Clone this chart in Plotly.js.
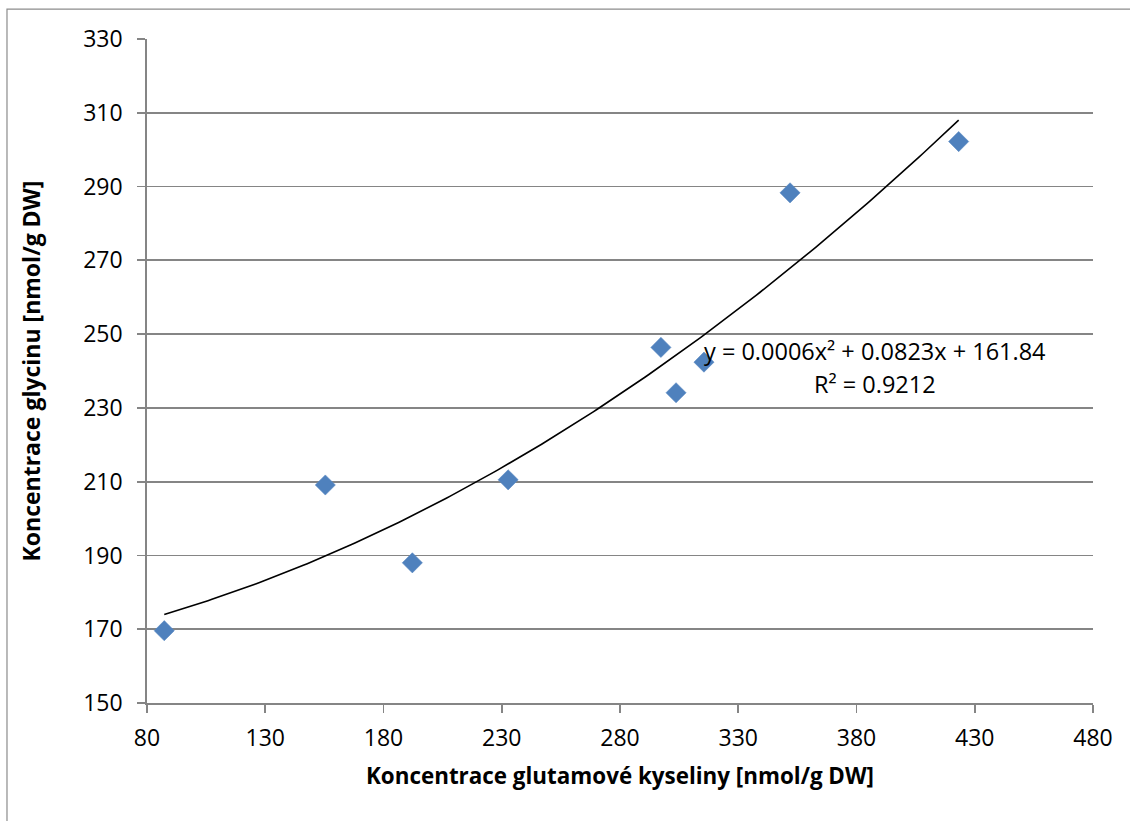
<!DOCTYPE html>
<html>
<head>
<meta charset="utf-8">
<script src="https://cdn.plot.ly/plotly-3.0.1.min.js"></script>
<style>
  html, body { margin: 0; padding: 0; background: #ffffff; }
  #chart { width: 1130px; height: 821px; }
</style>
</head>
<body>
<div id="chart"></div>
<script>
// Glutamic acid vs glycine concentrations [nmol/g DW]
const glutamate = [87.3, 155.4, 192.2, 232.7, 297.3, 315.5, 303.7, 351.9, 423.2];
const glycine   = [169.6, 209.1, 188.0, 210.5, 246.4, 242.4, 234.1, 288.3, 302.2];

const xTicks = [80, 130, 180, 230, 280, 330, 380, 430, 480];
const yTicks = [150, 170, 190, 210, 230, 250, 270, 290, 310, 330];

const equationText = 'y = 0.0006x² + 0.0823x + 161.84';
const r2Text = 'R² = 0.9212';

// Second-order polynomial least-squares fit (trendline)
function polyFit2(xs, ys) {
  let s0 = xs.length, s1 = 0, s2 = 0, s3 = 0, s4 = 0, t0 = 0, t1 = 0, t2 = 0;
  for (let i = 0; i < xs.length; i++) {
    const x = xs[i], y = ys[i];
    s1 += x; s2 += x * x; s3 += x * x * x; s4 += x * x * x * x;
    t0 += y; t1 += x * y; t2 += x * x * y;
  }
  const M = [[s0, s1, s2, t0], [s1, s2, s3, t1], [s2, s3, s4, t2]];
  for (let c = 0; c < 3; c++) {
    for (let r = c + 1; r < 3; r++) {
      const f = M[r][c] / M[c][c];
      for (let k = c; k < 4; k++) M[r][k] -= f * M[c][k];
    }
  }
  const b = [0, 0, 0];
  for (let r = 2; r >= 0; r--) {
    let s = M[r][3];
    for (let k = r + 1; k < 3; k++) s -= M[r][k] * b[k];
    b[r] = s / M[r][r];
  }
  return b; // [c, b, a]
}

const coef = polyFit2(glutamate, glycine);
const xMin = Math.min(...glutamate), xMax = Math.max(...glutamate);
const fitX = [], fitY = [];
for (let i = 0; i <= 200; i++) {
  const x = xMin + (xMax - xMin) * i / 200;
  fitX.push(x);
  fitY.push(coef[0] + coef[1] * x + coef[2] * x * x);
}

const FONT = 'Open Sans, Lato, sans-serif';
const GRID = '#858585';

const traces = [
  {
    x: fitX, y: fitY, type: 'scatter', mode: 'lines',
    line: { color: '#000000', width: 1.6 },
    hoverinfo: 'skip', showlegend: false
  },
  {
    x: glutamate, y: glycine, type: 'scatter', mode: 'markers',
    marker: { symbol: 'diamond', size: 15.5, color: '#4F81BD', line: { width: 0.6, color: '#5a8ac3' } },
    showlegend: false
  }
];

const layout = {
  width: 1130, height: 821,
  margin: { l: 147, r: 37, t: 39, b: 118 },
  paper_bgcolor: '#ffffff', plot_bgcolor: '#ffffff',
  font: { family: FONT, size: 23, color: '#000000' },
  showlegend: false,
  xaxis: {
    range: [80, 480], tickvals: xTicks, ticktext: xTicks.map(String),
    showgrid: false, zeroline: false,
    showline: true, linecolor: GRID, linewidth: 1.8,
    ticks: 'outside', ticklen: 8, tickwidth: 1.8, tickcolor: GRID,
    tickfont: { family: FONT, size: 23, color: '#000' },
    ticklabelstandoff: 6,
    title: { text: 'Koncentrace glutamové kyseliny [nmol/g DW]', font: { family: FONT, size: 22.4, color: '#000', weight: 'bold' }, standoff: 16 },
    automargin: false
  },
  yaxis: {
    range: [150, 330], tickvals: yTicks, ticktext: yTicks.map(String),
    showgrid: true, gridcolor: GRID, gridwidth: 1.8, zeroline: false,
    showline: true, linecolor: GRID, linewidth: 1.8,
    ticks: 'outside', ticklen: 8, tickwidth: 1.8, tickcolor: GRID,
    tickfont: { family: FONT, size: 23, color: '#000' },
    ticklabelstandoff: 10,
    title: { text: 'Koncentrace glycinu [nmol/g DW]', font: { family: FONT, size: 23, color: '#000', weight: 'bold' }, standoff: 36 },
    automargin: false
  },
  annotations: [
    { x: 387.8, y: 245.4, xref: 'x', yref: 'y', text: equationText, showarrow: false,
      font: { family: FONT, size: 23.5, color: '#000' }, xanchor: 'center', yanchor: 'middle' },
    { x: 387.8, y: 236.5, xref: 'x', yref: 'y', text: r2Text, showarrow: false,
      font: { family: FONT, size: 23.5, color: '#000' }, xanchor: 'center', yanchor: 'middle' }
  ],
  shapes: [
    // outer chart frame (left and top edges visible)
    { type: 'rect', xref: 'paper', yref: 'paper', x0: -0.148, x1: 1.2, y0: -0.5, y1: 1.045,
      line: { color: '#8c8c8c', width: 1.2 }, layer: 'below' }
  ]
};

Plotly.newPlot('chart', traces, layout, { displayModeBar: false, staticPlot: true });
</script>
</body>
</html>
